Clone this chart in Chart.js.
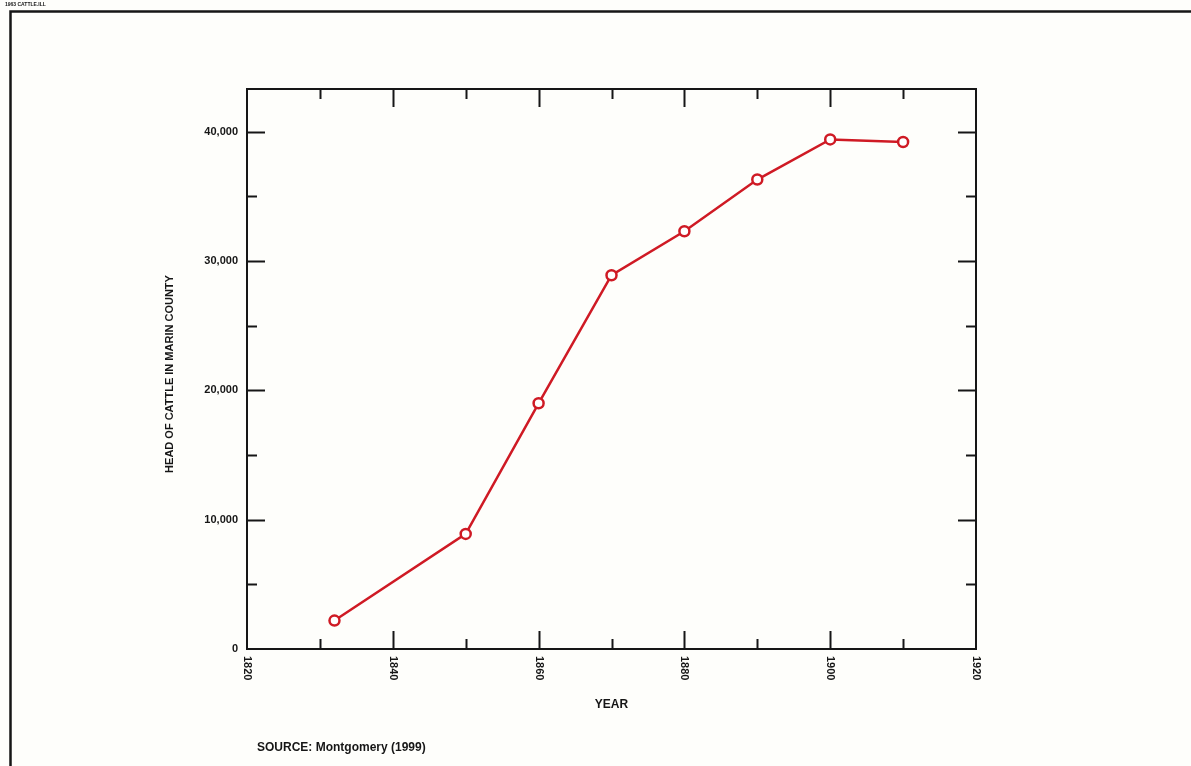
<!DOCTYPE html>
<html>
<head>
<meta charset="utf-8">
<style>
  html, body { margin: 0; padding: 0; background: #fefefb; }
  #wrap { position: relative; width: 1191px; height: 766px; }
</style>
<script src="https://cdn.jsdelivr.net/npm/chart.js@4/dist/chart.umd.min.js"></script>
</head>
<body>
<div id="wrap"><canvas id="cattleChart" width="1191" height="766"></canvas></div>
<script>
// cattle counts
const years = [1832, 1850, 1860, 1870, 1880, 1890, 1900, 1910];
const cattle = [2200, 8900, 19000, 28900, 32300, 36300, 39400, 39200];

const xMajorTicks = [1820, 1840, 1860, 1880, 1900, 1920];
const xMinorTicks = [1830, 1850, 1870, 1890, 1910];
const yMajorTicks = [0, 10000, 20000, 30000, 40000];
const yMinorTicks = [5000, 15000, 25000, 35000];

const ink = '#161616';
const red = '#cf1a24';
const boldFont = (size) => `bold ${size}px "Liberation Sans", Arial, sans-serif`;

const framePlugin = {
  id: 'frame',
  afterDraw(chart) {
    const { ctx, chartArea: area } = chart;
    const xs = chart.scales.x;
    const ys = chart.scales.y;
    ctx.save();

    // page border
    ctx.strokeStyle = ink;
    ctx.lineWidth = 2.5;
    ctx.beginPath();
    ctx.moveTo(10.5, 766);
    ctx.lineTo(10.5, 11.5);
    ctx.lineTo(1191, 11.5);
    ctx.stroke();

    ctx.fillStyle = ink;
    ctx.font = boldFont(5);
    ctx.textBaseline = 'middle';
    ctx.fillText('1963 CATTLE.ILL', 5, 5);

    // plot box
    ctx.lineWidth = 2;
    ctx.strokeRect(area.left, area.top, area.right - area.left, area.bottom - area.top);

    const tickLine = (x1, y1, x2, y2) => {
      ctx.beginPath();
      ctx.moveTo(x1, y1);
      ctx.lineTo(x2, y2);
      ctx.stroke();
    };

    // x ticks, pointing inward on bottom and top
    xMajorTicks.concat(xMinorTicks).forEach((v) => {
      const len = xMajorTicks.includes(v) ? 18 : 10;
      const px = Math.round(xs.getPixelForValue(v)) + 0.5;
      if (v === xs.min || v === xs.max) return;
      tickLine(px, area.bottom, px, area.bottom - len);
      tickLine(px, area.top, px, area.top + len);
    });

    // y ticks, pointing inward on left and right
    yMajorTicks.concat(yMinorTicks).forEach((v) => {
      const len = yMajorTicks.includes(v) ? 18 : 10;
      const py = Math.round(ys.getPixelForValue(v)) + 0.5;
      if (v === 0) return;
      tickLine(area.left, py, area.left + len, py);
      tickLine(area.right, py, area.right - len, py);
    });

    // y labels
    ctx.font = boldFont(11);
    ctx.textAlign = 'right';
    ctx.textBaseline = 'middle';
    yMajorTicks.forEach((v) => {
      ctx.fillText(v.toLocaleString('en-US'), area.left - 9, ys.getPixelForValue(v));
    });

    // x labels, rotated clockwise
    xMajorTicks.forEach((v) => {
      ctx.save();
      ctx.translate(xs.getPixelForValue(v), area.bottom + 7);
      ctx.rotate(Math.PI / 2);
      ctx.textAlign = 'left';
      ctx.textBaseline = 'middle';
      ctx.fillText(String(v), 0, 0);
      ctx.restore();
    });

    // axis titles
    ctx.save();
    ctx.translate(170, (area.top + area.bottom) / 2 + 5);
    ctx.rotate(-Math.PI / 2);
    ctx.textAlign = 'center';
    ctx.textBaseline = 'middle';
    ctx.fillText('HEAD OF CATTLE IN MARIN COUNTY', 0, 0);
    ctx.restore();

    ctx.font = boldFont(12);
    ctx.textAlign = 'center';
    ctx.fillText('YEAR', (area.left + area.right) / 2, 705);

    ctx.textAlign = 'left';
    ctx.fillText('SOURCE: Montgomery (1999)', 257, 748);

    ctx.restore();
  },
};

new Chart(document.getElementById('cattleChart'), {
  type: 'line',
  data: {
    datasets: [
      {
        data: years.map((year, i) => ({ x: year, y: cattle[i] })),
        borderColor: red,
        borderWidth: 2.5,
        pointRadius: 5,
        pointBorderWidth: 2.5,
        pointBackgroundColor: '#ffffff',
        pointBorderColor: red,
        tension: 0,
        clip: false,
      },
    ],
  },
  options: {
    responsive: false,
    animation: false,
    layout: {
      padding: { left: 247, right: 215, top: 89, bottom: 117 },
    },
    scales: {
      x: { type: 'linear', min: 1820, max: 1920, display: false },
      y: { type: 'linear', min: 0, max: 43300, display: false },
    },
    plugins: {
      legend: { display: false },
      tooltip: { enabled: false },
    },
  },
  plugins: [framePlugin],
});
</script>
</body>
</html>
